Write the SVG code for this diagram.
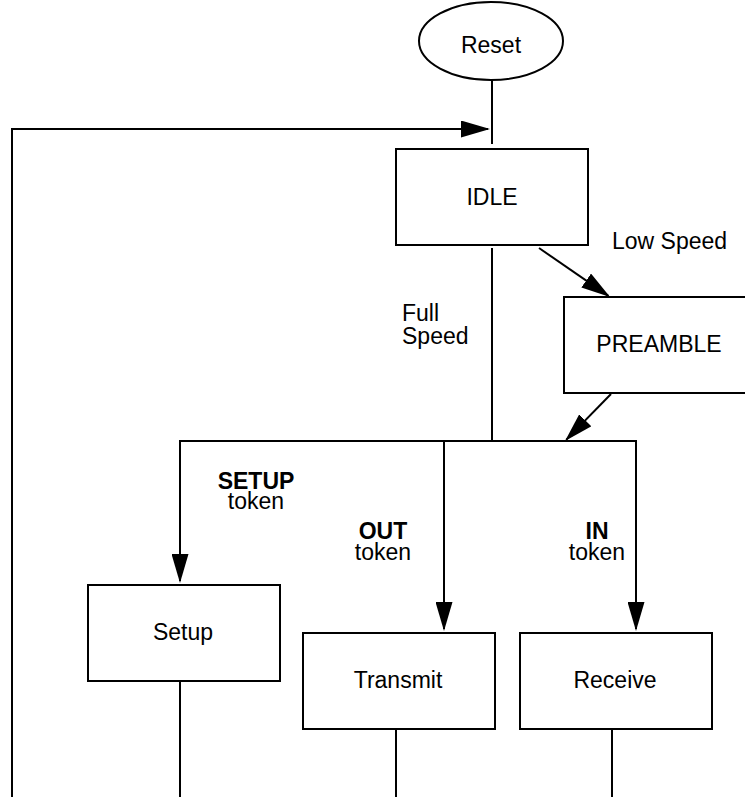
<svg xmlns="http://www.w3.org/2000/svg" width="745" height="797" viewBox="0 0 745 797">
  <style>
    .box { fill: #ffffff; stroke: #000000; stroke-width: 2; }
    .ln { fill: none; stroke: #000000; stroke-width: 2; }
    .t { font-family: "Liberation Sans", Arial, Helvetica, sans-serif; font-size: 23px; fill: #000000; }
    .c { text-anchor: middle; }
    .b { font-weight: bold; }
  </style>
  <defs>
    <marker id="arrow" markerUnits="userSpaceOnUse" markerWidth="29" markerHeight="17" viewBox="0 0 29 17" refX="27" refY="8.5" orient="auto">
      <path d="M0,0 L29,8.5 L0,17 Z" fill="#000000"/>
    </marker>
  </defs>
  <rect width="745" height="797" fill="#ffffff"/>

  <g id="connectors">
    <line class="ln" x1="492" y1="80" x2="492" y2="144"/>
    <path class="ln" d="M12,797 V129 H488" marker-end="url(#arrow)"/>
    <line class="ln" x1="492" y1="248" x2="492" y2="441"/>
    <line class="ln" x1="539" y1="248" x2="608.4" y2="295.9" marker-end="url(#arrow)"/>
    <line class="ln" x1="611" y1="394" x2="566.4" y2="439.6" marker-end="url(#arrow)"/>
    <line class="ln" x1="180" y1="441" x2="636" y2="441" stroke-linecap="square"/>
    <line class="ln" x1="180" y1="441" x2="180" y2="581" marker-end="url(#arrow)"/>
    <line class="ln" x1="444" y1="441" x2="444" y2="629" marker-end="url(#arrow)"/>
    <line class="ln" x1="636" y1="441" x2="636" y2="629" marker-end="url(#arrow)"/>
    <line class="ln" x1="180" y1="681" x2="180" y2="797"/>
    <line class="ln" x1="396" y1="729" x2="396" y2="797"/>
    <line class="ln" x1="612" y1="729" x2="612" y2="797"/>
    <text class="t" x="612" y="249">Low Speed</text>
    <text class="t" x="402" y="321">Full<tspan x="402" dy="23">Speed</tspan></text>
    <text class="t c" x="256" y="489"><tspan class="b">SETUP</tspan><tspan x="256" dy="20">token</tspan></text>
    <text class="t c" x="383" y="539"><tspan class="b">OUT</tspan><tspan x="383" dy="21">token</tspan></text>
    <text class="t c" x="597" y="539"><tspan class="b">IN</tspan><tspan x="597" dy="21">token</tspan></text>
  </g>

  <g id="reset">
    <ellipse class="box" cx="491" cy="41" rx="72" ry="39"/>
    <text class="t c" x="491" y="53">Reset</text>
  </g>
  <g id="idle">
    <rect class="box" x="396" y="149" width="192" height="96"/>
    <text class="t c" x="492" y="205">IDLE</text>
  </g>
  <g id="preamble">
    <rect class="box" x="564" y="297" width="200" height="96"/>
    <text class="t c" x="659" y="352">PREAMBLE</text>
  </g>
  <g id="setup">
    <rect class="box" x="88" y="585" width="192" height="96"/>
    <text class="t c" x="183" y="640">Setup</text>
  </g>
  <g id="transmit">
    <rect class="box" x="303" y="633" width="192" height="96"/>
    <text class="t c" x="398" y="688">Transmit</text>
  </g>
  <g id="receive">
    <rect class="box" x="520" y="633" width="192" height="96"/>
    <text class="t c" x="615" y="688">Receive</text>
  </g>
</svg>
